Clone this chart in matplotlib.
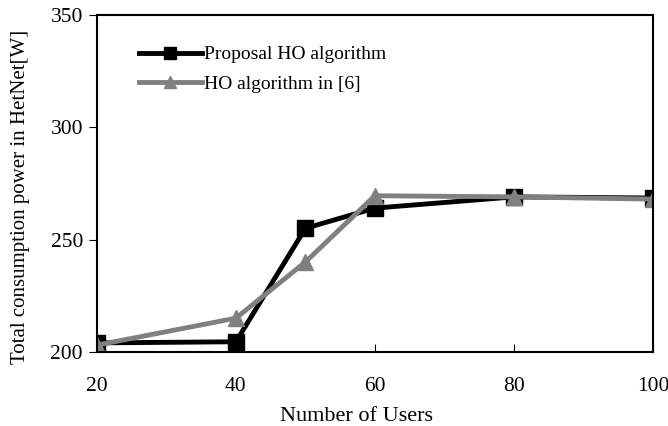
import matplotlib
matplotlib.use('Agg')
import matplotlib.pyplot as plt

users = [20, 40, 50, 60, 80, 100]
proposal = [204, 204.5, 255, 264, 269, 268.5]
ref6 = [203, 215, 240, 269.5, 269, 268]

plt.rcParams['font.family'] = 'Liberation Serif'

fig = plt.figure(figsize=(6.68, 4.26), dpi=100)
ax = fig.add_axes([0.145, 0.174, 0.8325, 0.791])

ax.plot(users, proposal, color='black', linewidth=3.5, marker='s', markersize=11,
        label='Proposal HO algorithm')
ax.plot(users, ref6, color='#808080', linewidth=3.5, marker='^', markersize=12,
        label='HO algorithm in [6]')

ax.set_xlim(20, 100)
ax.set_ylim(200, 350)
ax.set_xticks([20, 40, 60, 80, 100])
ax.set_yticks([200, 250, 300, 350])
ax.tick_params(axis='x', direction='in', length=6, labelsize=15.5, pad=18)
ax.tick_params(axis='y', direction='out', length=6, labelsize=15.5, pad=4)
for s in ax.spines.values():
    s.set_linewidth(1.5)
ax.set_xlabel('Number of Users', fontsize=16)
ax.set_ylabel('Total consumption power in HetNet[W]', fontsize=15)
ax.xaxis.set_label_coords(0.466, -0.165)
ax.yaxis.set_label_coords(-0.12, 0.46)
ax.legend(loc='upper left', bbox_to_anchor=(0.045, 0.96), frameon=False, fontsize=14,
          handlelength=3.2, handletextpad=0.1, labelspacing=0.6, markerscale=0.75)

fig.savefig('out.png', dpi=100)
